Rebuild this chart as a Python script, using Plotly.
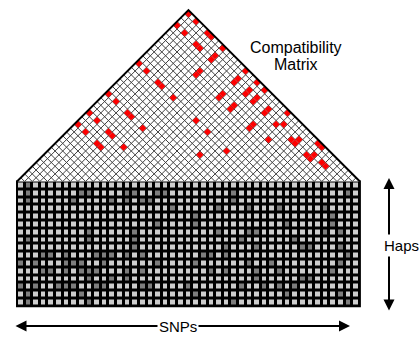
import plotly.graph_objects as go

# ---------------- data ----------------
n_snps = 45
n_haps = 16

# compatible SNP pairs (i, j) shown in red in the triangle
red_pairs = [
    (0, 44), (0, 41), (2, 44), (2, 41), (5, 44), (6, 44), (9, 44), (5, 41), (6, 41),
    (9, 42), (9, 41), (2, 31), (15, 44), (9, 38), (9, 37), (15, 42), (15, 41),
    (18, 44), (5, 31), (6, 31), (18, 42), (18, 41), (20, 44), (9, 31), (15, 38),
    (15, 37), (18, 38), (18, 37), (20, 42), (20, 41), (23, 42), (23, 41), (26, 44),
    (26, 41), (27, 42), (18, 31), (30, 41), (31, 41), (31, 42), (27, 38), (34, 44),
    (35, 44), (23, 31), (34, 41), (35, 41), (35, 42), (37, 42), (38, 42),
    (0, 31), (0, 23), (2, 23), (5, 23), (6, 23), (9, 23), (0, 18), (2, 18),
    (0, 15), (2, 15), (5, 18), (6, 18), (5, 15), (6, 15), (9, 18), (15, 31),
    (20, 27), (23, 38), (23, 37),
]

# dark (minor allele) cells of the haplotype matrix, per row
dark_cells = [
    [1],
    [1, 8, 9, 14, 15, 18, 19, 28, 43],
    [1, 7, 12, 14, 16, 17, 28],
    [20, 26, 30, 34, 40],
    [23, 41],
    [18, 23, 35, 41],
    [9, 15, 26, 30, 31, 40, 42],
    [1, 9, 15, 29, 36],
    [15, 27, 31, 37, 38, 42],
    [3, 4, 6, 10, 11, 12, 14, 16, 24, 25, 27, 43],
    [0, 2, 6, 7, 8, 11, 18, 23, 30, 33, 42],
    [3, 4, 6, 8, 9, 10, 14, 16, 25, 27, 31, 34, 41],
    [9, 12, 14, 31, 37, 38],
    [0, 2, 5, 6, 7, 10, 11, 16, 17, 22, 29, 32, 34, 36],
    [1, 8, 23, 35, 42],
    [1, 9, 28, 43],
]

label_matrix = ["Compatibility", "Matrix"]
label_haps = "Haps"
label_snps = "SNPs"

# ---------------- figure ----------------
W, H = 419, 337
px_unit = 7.62
x_left_px = 17.0
base_px = 181.5
row_h = 1.024

def xr(px):
    return (px - x_left_px) / px_unit

def yr(py):
    return (base_px - py) / px_unit

fig = go.Figure()

# haplotype matrix as heatmap
z = [[0] * n_snps for _ in range(n_haps)]
for r, cols in enumerate(dark_cells):
    for c in cols:
        z[r][c] = 1
fig.add_trace(go.Heatmap(
    z=z,
    x=[c + 0.5 for c in range(n_snps)],
    y=[-(r + 0.5) * row_h for r in range(n_haps)],
    zmin=0, zmax=1,
    colorscale=[[0, "#cdcdcd"], [0.5, "#cdcdcd"], [0.5, "#7d7d7d"], [1, "#7d7d7d"]],
    showscale=False, xgap=3, ygap=3, hoverinfo="skip",
))

# triangle white background
fig.add_trace(go.Scatter(
    x=[0, n_snps / 2, n_snps, 0], y=[0, n_snps / 2, 0, 0],
    fill="toself", fillcolor="white", line=dict(width=0), mode="lines",
    hoverinfo="skip", showlegend=False,
))

# lattice lines
lx, ly = [], []
for k in range(1, n_snps):
    lx += [k, k / 2, None]
    ly += [0, k / 2, None]
    lx += [k, (n_snps + k) / 2, None]
    ly += [0, (n_snps - k) / 2, None]
fig.add_trace(go.Scatter(x=lx, y=ly, mode="lines", line=dict(color="#404040", width=1),
                         hoverinfo="skip", showlegend=False))

# red compatible cells
a = 0.44
rx, ry = [], []
for i, j in red_pairs:
    cx = (i + j + 1) / 2
    cy = (j - i) / 2
    rx += [cx - a, cx, cx + a, cx, cx - a, None]
    ry += [cy, cy + a, cy, cy - a, cy, None]
fig.add_trace(go.Scatter(x=rx, y=ry, mode="lines", fill="toself", fillcolor="#ff0000",
                         line=dict(color="#ff0000", width=0.5), hoverinfo="skip", showlegend=False))

# triangle outline
fig.add_trace(go.Scatter(x=[0, n_snps / 2, n_snps], y=[0, n_snps / 2, 0], mode="lines",
                         line=dict(color="black", width=2), hoverinfo="skip", showlegend=False))

shapes = [
    dict(type="rect", x0=0, x1=n_snps, y0=-n_haps * row_h, y1=0, xref="x", yref="y",
         fillcolor="black", line=dict(color="black", width=2), layer="below"),
]

font = dict(size=15, color="black", family="Liberation Sans, Arial")
font_big = dict(size=16, color="black", family="Liberation Sans, Arial")
annotations = [
    # horizontal double arrow (SNPs)
    dict(x=xr(350), y=yr(326), ax=xr(14), ay=yr(326), xref="x", yref="y", axref="x", ayref="y",
         text="", showarrow=True, arrowhead=2, arrowside="end+start", arrowwidth=2, arrowsize=1.1,
         arrowcolor="black"),
    # vertical double arrow (Haps)
    dict(x=xr(389), y=yr(178), ax=xr(389), ay=yr(312), xref="x", yref="y", axref="x", ayref="y",
         text="", showarrow=True, arrowhead=2, arrowside="end+start", arrowwidth=2, arrowsize=1.1,
         arrowcolor="black"),
    dict(x=xr(178), y=yr(326), xref="x", yref="y", text=label_snps, showarrow=False,
         bgcolor="white", font=font, borderpad=1),
    dict(x=xr(401), y=yr(245), xref="x", yref="y", text=label_haps, showarrow=False,
         bgcolor="white", font=font, borderpad=2),
    dict(x=xr(296), y=yr(47), xref="x", yref="y", text=label_matrix[0], showarrow=False, font=font_big),
    dict(x=xr(296), y=yr(64), xref="x", yref="y", text=label_matrix[1], showarrow=False, font=font_big),
]

fig.update_layout(
    width=W, height=H, margin=dict(l=0, r=0, t=0, b=0),
    paper_bgcolor="white", plot_bgcolor="white",
    xaxis=dict(range=[xr(0), xr(W)], visible=False, fixedrange=True),
    yaxis=dict(range=[yr(H), yr(0)], visible=False, fixedrange=True),
    shapes=shapes, annotations=annotations, showlegend=False,
)

fig.write_html("out.html", config=dict(displayModeBar=False),
               post_script="document.body.style.margin='0px';")
